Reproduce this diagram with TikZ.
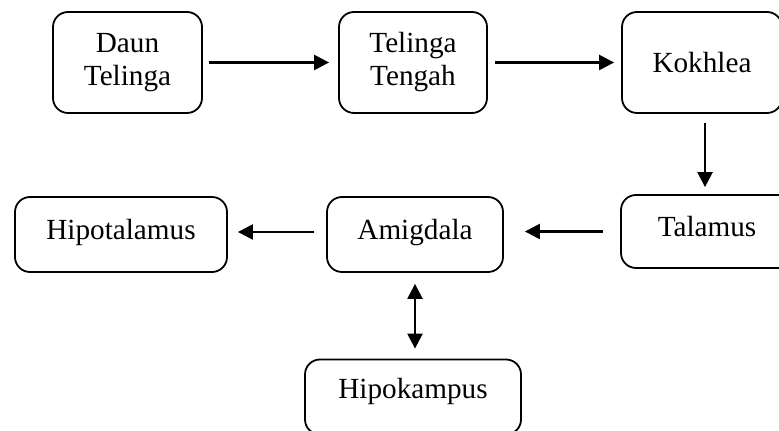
\documentclass[tikz,border=0pt]{standalone}
\usepackage{fontspec}
\setmainfont{Liberation Serif}
\usetikzlibrary{arrows.meta}
\begin{document}
\begin{tikzpicture}[x=0.5pt,y=-0.5pt,
  box/.style={draw=black, line width=0.9pt, rounded corners=7.5pt, align=center,
    font=\fontsize{14.6}{16.5}\selectfont, inner sep=0pt},
  onebox/.style={box, text height=10pt, text depth=4.9pt},
  arr/.style={line width=1.2pt, -{Triangle[length=7.5pt,width=7.5pt]}},
  arrtwo/.style={line width=1.2pt, {Triangle[length=7.5pt,width=7.5pt]}-{Triangle[length=7.5pt,width=7.5pt]}}]
\useasboundingbox (0,0) rectangle (779,431);
\clip (0,0) rectangle (779,431);
\node[box, minimum width=74.5pt, minimum height=50.5pt] (daun) at (127.5,62.5) {Daun\\Telinga};
\node[box, minimum width=74pt, minimum height=50.5pt] (tengah) at (413,62.5) {Telinga\\Tengah};
\node[box, minimum width=80pt, minimum height=50.5pt] (kokhlea) at (702,62.5) {Kokhlea};
\node[onebox, minimum width=86pt, minimum height=36.5pt] (talamus) at (707,231.5) {Talamus};
\node[onebox, minimum width=88pt, minimum height=37.5pt] (amigdala) at (415,234.5) {Amigdala};
\node[onebox, minimum width=106pt, minimum height=37.5pt] (hipotalamus) at (121,234.5) {Hipotalamus};
\node[onebox, text depth=8.9pt, minimum width=108pt, minimum height=37.5pt] (hipokampus) at (413,397) {Hipokampus};
\draw[arr, shorten <=3pt, shorten >=4.5pt] (daun.east) -- (daun.east -| tengah.west);
\draw[arr, shorten <=3.5pt, shorten >=3.5pt] (tengah.east) -- (tengah.east -| kokhlea.west);
\draw[arr, shorten <=4.5pt, shorten >=3.5pt] ([xshift=1.5pt]kokhlea.south) -- ([xshift=1.5pt]kokhlea.south |- talamus.north);
\draw[arr, shorten <=8.5pt, shorten >=10.5pt] (talamus.west) -- (talamus.west -| amigdala.east);
\draw[arr, shorten <=6pt, shorten >=5pt] ([yshift=1.25pt]amigdala.west) -- ([yshift=1.25pt]amigdala.west -| hipotalamus.east);
\draw[arrtwo, shorten <=5.5pt, shorten >=5pt] (amigdala.south) -- (amigdala.south |- hipokampus.north);
\end{tikzpicture}
\end{document}
